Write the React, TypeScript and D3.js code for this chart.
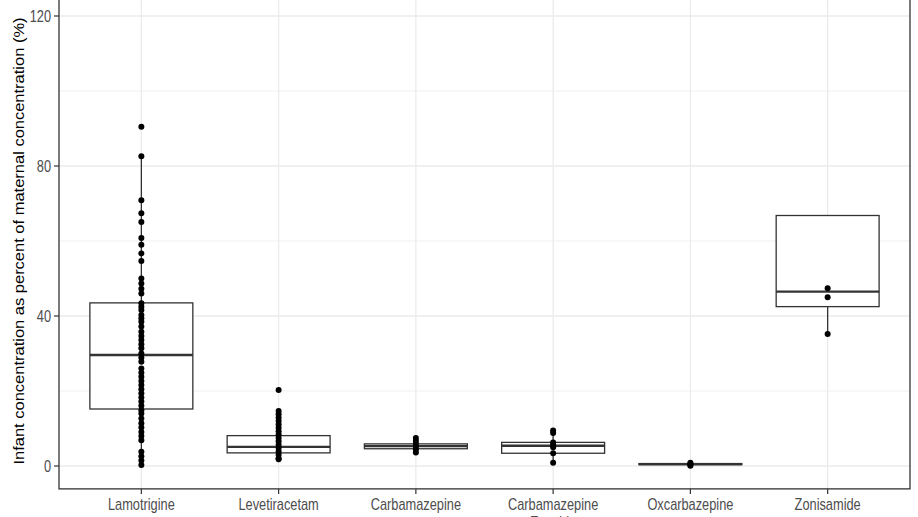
import React from "react";
import * as d3 from "d3";

const categories = ["Lamotrigine", "Levetiracetam", "Carbamazepine", "Carbamazepine\nEpoxide", "Oxcarbazepine", "Zonisamide"];

// box statistics: [whiskerLow, q1, median, q3, whiskerHigh]
const boxLow = [0.3, 1.8, 3.6, 0.9, 0.1, 35.2];
const boxQ1 = [15.2, 3.5, 4.6, 3.4, 0.35, 42.5];
const boxMedian = [29.6, 5.1, 5.3, 5.4, 0.5, 46.5];
const boxQ3 = [43.5, 8.1, 5.9, 6.3, 0.65, 66.8];
const boxHigh = [82.6, 14.7, 7.5, 9.5, 0.9, 66.8];

const lamotrigine = [90.5, 82.6, 70.9, 67.4, 65.1, 60.8, 59.0, 56.7, 54.7, 50.0, 48.7, 47.3, 46.0, 43.4, 42.5, 41.6, 40.3, 39.4, 38.5, 37.2, 35.8, 34.7, 33.6, 32.5, 31.4, 30.0, 28.9, 27.8, 26.0, 24.9, 23.8, 22.7, 21.6, 20.5, 19.4, 18.3, 17.2, 16.1, 14.9, 14.0, 12.7, 11.4, 10.3, 9.1, 8.0, 6.9, 3.8, 2.6, 1.5, 0.3];
const levetiracetam = [20.3, 14.7, 13.8, 12.9, 12.0, 11.1, 10.2, 9.3, 8.4, 7.5, 6.6, 5.7, 4.8, 3.9, 3.0, 2.1, 1.8];
const carbamazepine = [7.5, 6.7, 5.9, 5.1, 4.4, 3.6];
const epoxide = [9.5, 8.8, 6.3, 5.6, 5.0, 3.4, 0.9];
const oxcarbazepine = [0.9, 0.6, 0.3, 0.1];
const zonisamide = [47.4, 45.0, 35.2];
const pointSeries = [lamotrigine, levetiracetam, carbamazepine, epoxide, oxcarbazepine, zonisamide];

const yMajor = [0, 40, 80, 120];
const yMinor = [20, 60, 100];

const W = 918, H = 517;
const left = 59, right = 910;

export default function App() {
  const y = d3.scaleLinear().domain([0, 120]).range([466, 16]);
  const top = y(126.1), bottom = y(-6.1);
  const x = d3.scalePoint<string>().domain(categories).range([left, right]).padding(0.6);
  const step = x.step();
  const bw = step * 0.75;
  const grid = "#EBEBEB";
  const dark = "#333333";
  const sx = 0.8;

  return (
    <svg width={W} height={H} style={{ position: "absolute", left: 0, top: 0, background: "#fff" }}
      fontFamily="'Liberation Sans', Arial, sans-serif">
      <rect x={0} y={0} width={W} height={H} fill="#fff" />
      {yMinor.map((v) => (
        <line key={"mn" + v} x1={left} x2={right} y1={y(v)} y2={y(v)} stroke={grid} strokeWidth={0.8} />
      ))}
      {yMajor.map((v) => (
        <line key={"mj" + v} x1={left} x2={right} y1={y(v)} y2={y(v)} stroke={grid} strokeWidth={1.3} />
      ))}
      {categories.map((c) => (
        <line key={"vx" + c} x1={x(c)} x2={x(c)} y1={top} y2={bottom} stroke={grid} strokeWidth={1.3} />
      ))}
      {categories.map((c, i) => {
        const cx = x(c) as number;
        return (
          <g key={"box" + c}>
            <line x1={cx} x2={cx} y1={y(boxQ3[i])} y2={y(boxHigh[i])} stroke={dark} strokeWidth={1.3} />
            <line x1={cx} x2={cx} y1={y(boxQ1[i])} y2={y(boxLow[i])} stroke={dark} strokeWidth={1.3} />
            <rect x={cx - bw / 2} width={bw} y={y(boxQ3[i])} height={Math.max(0.1, y(boxQ1[i]) - y(boxQ3[i]))}
              fill="#fff" stroke={dark} strokeWidth={1.3} />
            <line x1={cx - bw / 2} x2={cx + bw / 2} y1={y(boxMedian[i])} y2={y(boxMedian[i])} stroke={dark} strokeWidth={2.4} />
          </g>
        );
      })}
      {categories.map((c, i) =>
        pointSeries[i].map((v, j) => (
          <circle key={c + j} cx={x(c)} cy={y(v)} r={3} fill="#000" />
        ))
      )}
      <rect x={left} y={top} width={right - left} height={bottom - top} fill="none" stroke={dark} strokeWidth={1.3} />
      {yMajor.map((v) => (
        <g key={"yt" + v}>
          <line x1={left - 5} x2={left} y1={y(v)} y2={y(v)} stroke={dark} strokeWidth={1.2} />
          <g transform={`translate(${left - 8},${y(v)}) scale(${sx},1)`}>
            <text textAnchor="end" dy="0.36em" fontSize={16} fill="#4D4D4D">{v}</text>
          </g>
        </g>
      ))}
      {categories.map((c) => (
        <g key={"xt" + c}>
          <line x1={x(c)} x2={x(c)} y1={bottom} y2={bottom + 5} stroke={dark} strokeWidth={1.2} />
          <g transform={`translate(${x(c)},${bottom + 21}) scale(${sx},1)`}>
            {c.split("\n").map((ln, k) => (
              <text key={k} textAnchor="middle" y={k * 18} fontSize={16} fill="#4D4D4D">{ln}</text>
            ))}
          </g>
        </g>
      ))}
      <g transform={`translate(24,${(top + bottom) / 2}) scale(0.85,1) rotate(-90)`}>
        <text textAnchor="middle" fontSize={16.5} fill="#000">Infant concentration as percent of maternal concentration (%)</text>
      </g>
    </svg>
  );
}
